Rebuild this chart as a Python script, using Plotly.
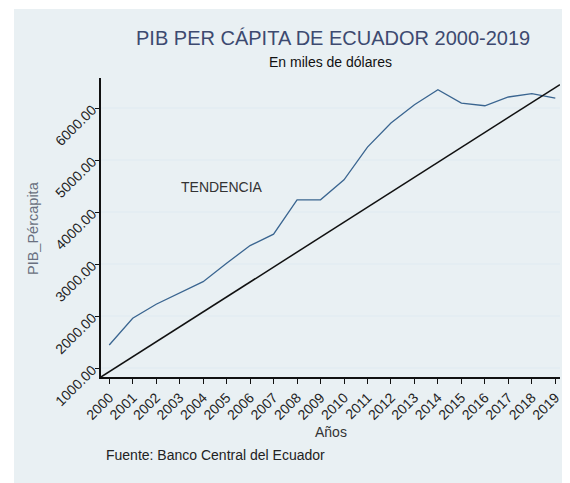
import plotly.graph_objects as go

years = list(range(2000, 2020))
pib_percapita = [1448, 1962, 2231, 2454, 2665, 3019, 3358, 3577, 4237, 4237,
                 4621, 5250, 5712, 6063, 6352, 6096, 6044, 6212, 6275, 6192]
trend_years = [1999.65, 2019.2]
trend_values = [833, 6450]
y_ticks = [1000, 2000, 3000, 4000, 5000, 6000]
y_tick_labels = ["1000.00", "2000.00", "3000.00", "4000.00", "5000.00", "6000.00"]

# the page body adds an 8px margin; size the figure to fit the 570x483 window
OFF = 8
W, H = 570 - OFF, 483 - OFF
L, R, T, B = 101 - OFF, 10, 78 - OFF, 106
pw, ph = W - L - R, H - T - B

def px(x):
    return (x - OFF - L) / pw

def py(y):
    return 1 - (y - OFF - T) / ph

fig = go.Figure()
fig.add_trace(go.Scatter(x=years, y=pib_percapita, mode="lines",
                         line=dict(color="#3a6590", width=1.3), showlegend=False))
fig.add_trace(go.Scatter(x=trend_years, y=trend_values, mode="lines",
                         line=dict(color="#111111", width=1.5), showlegend=False))

def ann(text, x, y, size, color, xanchor="center", angle=0):
    return dict(text=text, x=px(x), y=py(y), xref="paper", yref="paper",
                xanchor=xanchor, yanchor="middle", showarrow=False, textangle=angle,
                font=dict(size=size, color=color))

fig.update_layout(
    width=W, height=H,
    paper_bgcolor="white", plot_bgcolor="white",
    margin=dict(l=L, r=R, t=T, b=B, autoexpand=False),
    font=dict(family="Liberation Sans, Arial, sans-serif", size=11, color="#222"),
    shapes=[dict(type="rect", xref="paper", yref="paper", layer="below",
                 x0=px(14), x1=px(600), y0=py(600), y1=py(9),
                 fillcolor="#e9f0f3", line=dict(width=0))],
    annotations=[
        ann("PIB PER CÁPITA DE ECUADOR 2000-2019", 333, 38, 20, "#3d4a70"),
        ann("En miles de dólares", 330, 62, 14, "#111"),
        ann("TENDENCIA", 222, 187, 14, "#333"),
        ann("Años", 331, 432, 14, "#333"),
        ann("Fuente: Banco Central del Ecuador", 104, 455, 14, "#222", xanchor="left"),
        ann("PIB_Pércapita", 33, 228, 14.5, "#6a7080", angle=-90),
    ],
)

fig.update_xaxes(range=[1999.65, 2019.2], tickmode="array", tickvals=years,
                 ticktext=[str(y) for y in years], tickangle=-45,
                 showline=True, linecolor="#111", linewidth=2, ticks="outside",
                 ticklen=5, tickcolor="#111", showgrid=False, zeroline=False,
                 automargin=False, tickfont=dict(size=14, color="#222"))
fig.update_yaxes(range=[833, 6577], tickmode="array", tickvals=y_ticks,
                 ticktext=y_tick_labels, tickangle=-45,
                 showline=True, linecolor="#111", linewidth=2, ticks="outside",
                 ticklen=4, tickcolor="#111", showgrid=True, gridcolor="#e4edf2",
                 gridwidth=1.5, zeroline=False, automargin=False,
                 tickfont=dict(size=14, color="#222"))

fig.write_html("out.html")
